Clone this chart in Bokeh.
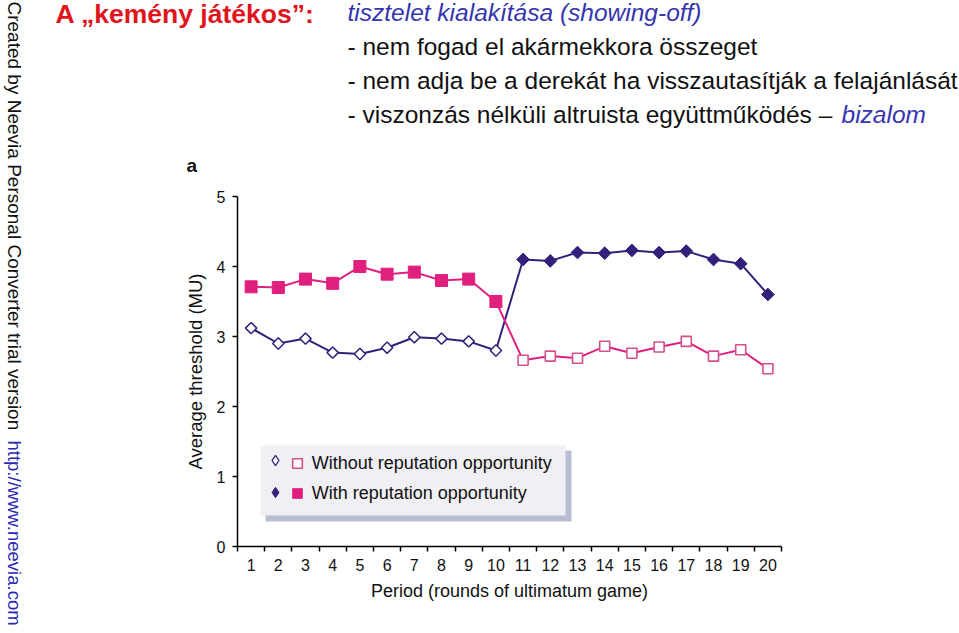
import numpy as np
from bokeh.plotting import figure
from bokeh.layouts import row, column
from bokeh.models import (Label, FixedTicker, Legend, LegendItem, BoxAnnotation,
                          ColumnDataSource)
from bokeh.embed import file_html
from bokeh.resources import INLINE

# ---------------- data ----------------
periods = list(range(1, 21))
# group plotted with diamonds (no reputation in 1-10, reputation in 11-20)
diamond_group = [3.12, 2.90, 2.97, 2.77, 2.75, 2.84, 2.99, 2.97, 2.93, 2.80,
                 4.10, 4.08, 4.20, 4.19, 4.23, 4.20, 4.22, 4.10, 4.04, 3.60]
# group plotted with squares (reputation in 1-10, no reputation in 11-20)
square_group = [3.71, 3.70, 3.82, 3.76, 4.00, 3.89, 3.92, 3.80, 3.82, 3.50,
                2.66, 2.72, 2.69, 2.86, 2.76, 2.85, 2.93, 2.72, 2.81, 2.54]
y_ticks = [0, 1, 2, 3, 4, 5]
x_tick_labels = [str(i) for i in periods]

title_red = "A \u201ekem\u00e9ny j\u00e1t\u00e9kos\u201d:"
title_blue = "tisztelet kialak\u00edt\u00e1sa (showing-off)"
bullet_lines = ["- nem fogad el ak\u00e1rmekkora \u00f6sszeget",
                "- nem adja be a derek\u00e1t ha visszautas\u00edtj\u00e1k a felaj\u00e1nl\u00e1s\u00e1t",
                "- viszonz\u00e1s n\u00e9lk\u00fcli altruista egy\u00fcttm\u0171k\u00f6d\u00e9s \u2013"]
bullet_last_blue = "bizalom"
panel_letter = "a"
legend_labels = ["Without reputation opportunity", "With reputation opportunity"]
watermark_black = "Created by Neevia Personal Converter trial version"
watermark_blue = "http://www.neevia.com"

DARK = "#33207a"
MAGENTA = "#e0207e"
PINK = "#d4508c"
BLUE = "#3535b0"
FONT = "Liberation Sans"

WM_W, TOTAL_H = 28, 633
HEAD_H = 180
MAIN_W = 931


def no_align(f):
    if "frame_align" in f.properties():
        f.frame_align = False
    return f


def blank_fig(w, h):
    f = figure(width=w, height=h, x_range=(0, w), y_range=(0, h),
               x_axis_type=None, y_axis_type=None, min_border=0,
               output_backend="svg", toolbar_location=None)
    f.title_location = None
    f.outline_line_color = None
    f.xgrid.visible = False
    f.ygrid.visible = False
    return no_align(f)


def add_label(fig, text, x, y, size, color="#111111", style="normal",
              align="left", baseline="alphabetic", angle=0):
    fig.add_layout(Label(x=x, y=y, x_units="screen", y_units="screen",
                         text=text, text_font=FONT, text_font_size=size,
                         text_color=color, text_font_style=style,
                         text_align=align, text_baseline=baseline, angle=angle))


# ---------------- watermark strip (left) ----------------
wm = blank_fig(WM_W, TOTAL_H)
add_label(wm, watermark_black, 14, TOTAL_H - 1, "19px", baseline="middle", angle=-np.pi / 2)
add_label(wm, watermark_blue, 14, TOTAL_H - 440, "18.5px", color="#2a2ab4",
          baseline="middle", angle=-np.pi / 2)

# ---------------- header text ----------------
hd = blank_fig(MAIN_W, HEAD_H)


def hx(px):
    return px - WM_W


def hy(py):
    # baseline of the text at page y = py
    return HEAD_H - py + 10


add_label(hd, title_red, hx(55), hy(23.5), "26.5px", color="#e0141c", style="bold")
add_label(hd, title_blue, hx(347), hy(21.5), "24.5px", color=BLUE, style="italic")
for i, t in enumerate(bullet_lines):
    add_label(hd, t, hx(347), hy(55.5 + 34 * i), "24.5px")
add_label(hd, bullet_last_blue, hx(841), hy(123.5), "24.5px", color=BLUE, style="italic")
add_label(hd, panel_letter, hx(186), hy(175), "19px", style="bold")

# ---------------- main chart ----------------
FL, FR, FT, FB = 237, 781, 196, 546   # frame edges in page pixels
p = figure(width=MAIN_W, height=TOTAL_H - HEAD_H, x_range=(0.5, 20.5), y_range=(0, 5),
           output_backend="svg", toolbar_location=None,
           min_border_left=FL - WM_W, min_border_right=MAIN_W - (FR - WM_W),
           min_border_top=FT - HEAD_H, min_border_bottom=TOTAL_H - FB)
no_align(p)
p.title_location = None
p.outline_line_color = None
p.xgrid.visible = False
p.ygrid.visible = False

xa = p.xaxis[0]
xa.ticker = FixedTicker(ticks=periods, minor_ticks=[i + 0.5 for i in range(0, 21)])
xa.major_label_overrides = {i: s for i, s in zip(periods, x_tick_labels)}
xa.major_tick_out = 0
xa.major_tick_in = 0
xa.minor_tick_out = 5
xa.minor_tick_in = 0
xa.minor_tick_line_color = "black"
xa.minor_tick_line_width = 1.5
xa.axis_line_color = "black"
xa.axis_line_width = 1.5
xa.major_label_text_font = FONT
xa.major_label_text_font_size = "16px"
xa.major_label_text_color = "#111111"
xa.major_label_standoff = 7
xa.axis_label = "Period (rounds of ultimatum game)"
xa.axis_label_text_font = FONT
xa.axis_label_text_font_size = "18px"
xa.axis_label_text_font_style = "normal"
xa.axis_label_text_color = "#111111"
xa.axis_label_standoff = 7

ya = p.yaxis[0]
ya.ticker = FixedTicker(ticks=y_ticks, minor_ticks=[])
ya.major_tick_out = 5
ya.major_tick_in = 0
ya.major_tick_line_width = 1.5
ya.axis_line_width = 1.5
ya.major_label_text_font = FONT
ya.major_label_text_font_size = "16px"
ya.major_label_text_color = "#111111"
ya.major_label_standoff = 7
ya.axis_label = "Average threshold (MU)"
ya.axis_label_text_font = FONT
ya.axis_label_text_font_size = "18.5px"
ya.axis_label_text_font_style = "normal"
ya.axis_label_text_color = "#111111"
ya.axis_label_standoff = 8

src = ColumnDataSource(dict(x=periods, d=diamond_group, s=square_group))
p.line("x", "d", source=src, line_color=DARK, line_width=2)
p.line("x", "s", source=src, line_color=MAGENTA, line_width=2)

first = periods[:10]
second = periods[10:]
p.scatter(first, diamond_group[:10], marker="square", angle=np.pi / 4,
          size=8, fill_color="white", line_color=DARK, line_width=1.5)
p.scatter(second, diamond_group[10:], marker="square", angle=np.pi / 4,
          size=9, fill_color=DARK, line_color=DARK, line_width=1)
fill_s = p.scatter(first, square_group[:10], marker="square",
                   size=12, fill_color=MAGENTA, line_color=MAGENTA, line_width=1)
open_s = p.scatter(second, square_group[10:], marker="square",
                   size=10, fill_color="white", line_color=PINK, line_width=1.6)
# legend-only diamond renderers (same data, hidden on the chart)
leg_open_d = p.scatter(first, diamond_group[:10], marker="diamond", size=9,
                       fill_color="white", line_color=DARK, line_width=1.3, visible=False)
leg_fill_d = p.scatter(second, diamond_group[10:], marker="diamond", size=9,
                       fill_color=DARK, line_color=DARK, line_width=1, visible=False)


def sx(px):
    return px - FL


def sy(py):
    return FB - py


p.add_layout(BoxAnnotation(left=sx(265), right=sx(571), top=sy(450), bottom=sy(521),
                           left_units="screen", right_units="screen",
                           top_units="screen", bottom_units="screen",
                           fill_color="#b9bdd2", fill_alpha=1, line_color=None))
p.add_layout(BoxAnnotation(left=sx(260), right=sx(565), top=sy(445), bottom=sy(515),
                           left_units="screen", right_units="screen",
                           top_units="screen", bottom_units="screen",
                           fill_color="#efeff4", fill_alpha=1, line_color=None))

leg1 = Legend(items=[LegendItem(label=" ", renderers=[leg_open_d]),
                     LegendItem(label=" ", renderers=[leg_fill_d])],
              location=(sx(262), sy(505.3)), padding=0, margin=0, spacing=6,
              glyph_width=26, glyph_height=26, label_height=24, label_standoff=0,
              label_text_font_size="8px", background_fill_alpha=0,
              border_line_color=None, inactive_fill_alpha=0)
leg2 = Legend(items=[LegendItem(label=legend_labels[0], renderers=[open_s]),
                     LegendItem(label=legend_labels[1], renderers=[fill_s])],
              location=(sx(284.7), sy(505.3)), padding=0, margin=0, spacing=6,
              glyph_width=24, glyph_height=24, label_height=24, label_standoff=3,
              label_text_font=FONT, label_text_font_size="18px",
              label_text_color="#111111",
              background_fill_alpha=0, border_line_color=None)
p.add_layout(leg1)
p.add_layout(leg2)

layout = row(wm, column(hd, p))
open("out.html", "w").write(file_html(layout, INLINE))
